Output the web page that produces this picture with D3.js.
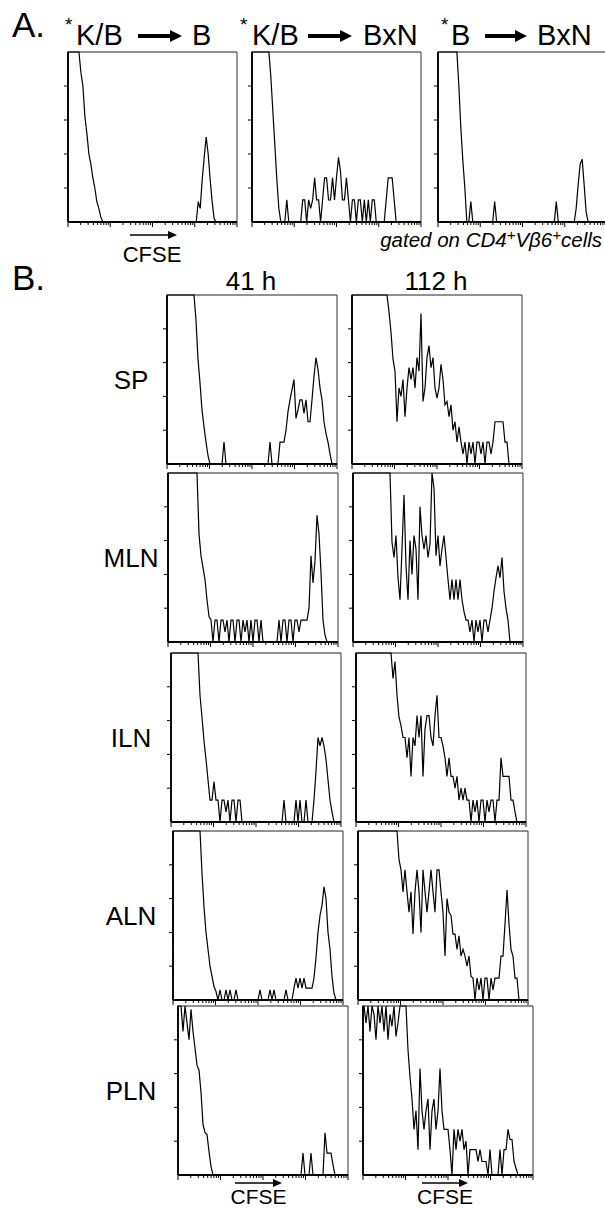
<!DOCTYPE html>
<html>
<head>
<meta charset="utf-8">
<script src="https://cdn.jsdelivr.net/npm/d3@7"></script>
<style>
  body { margin: 0; background: #fff; }
  svg { display: block; }
  text { font-family: "Liberation Sans", Arial, Helvetica, sans-serif; fill: #000; }
</style>
</head>
<body>
<svg width="605" height="1209"></svg>
<script>
// CFSE histograms, 85 channels each, value = % of plot height (>100 runs off the top)

// A. transfers, gated on CD4+ Vb6+ cells
const kbToB = [
  120,120,120,120,120,120,88,80,62,52,
  40,34,26,20,12,8,3,0,0,0,
  0,0,0,0,0,0,0,0,0,0,
  0,0,0,0,0,0,0,0,0,0,
  0,0,0,0,0,0,0,0,0,0,
  0,0,0,0,0,0,0,0,0,0,
  0,0,0,0,0,12,8,25,38,50,
  40,25,12,2,0,0,0,0,0,0,
  0,0,0,0,0];
const kbToBxN = [
  120,120,120,120,120,120,120,120,120,85,
  65,45,25,8,0,0,0,13,0,0,
  0,0,0,0,0,13,13,0,13,8,
  13,26,13,13,0,13,26,26,13,13,
  26,13,26,38,30,13,13,26,13,0,
  13,13,0,13,13,0,13,0,13,0,
  13,13,0,0,0,0,0,13,26,26,
  26,13,0,0,0,0,0,0,0,0,
  0,0,0,0,0];
const bToBxN = [
  120,120,120,120,120,120,120,120,120,120,
  80,55,36,20,0,0,12,0,0,0,
  0,0,0,0,0,0,0,0,12,0,
  0,0,0,0,0,0,0,0,0,0,
  0,0,0,0,0,0,0,0,0,0,
  0,0,0,0,0,0,0,0,0,12,
  0,0,0,0,0,0,0,0,0,8,
  22,34,37,22,6,0,0,0,0,0,
  0,0,0,0,0];

// B. lymphoid organs at 41 h and 112 h
const sp41 = [
  120,120,120,120,120,120,120,120,120,120,
  120,120,120,120,85,62,48,32,22,13,
  5,0,0,0,0,0,0,0,13,0,
  0,0,0,0,0,0,0,0,0,0,
  0,0,0,0,0,0,0,0,0,0,
  0,13,0,0,0,0,13,13,13,20,
  31,38,44,50,27,32,38,38,30,38,
  25,25,38,52,63,56,45,38,25,18,
  13,6,0,0,0];
const sp112 = [
  120,120,120,120,120,120,120,120,120,120,
  120,120,120,120,120,120,120,120,90,78,
  62,55,25,45,40,50,28,45,57,50,
  57,45,63,55,89,37,45,63,70,57,
  63,45,39,45,59,50,35,37,28,35,
  20,25,13,22,13,6,13,0,13,6,
  13,0,13,13,6,13,0,13,13,6,
  13,25,25,25,25,25,13,13,0,0,
  0,0,0,0,0];
const mln41 = [
  120,120,120,120,120,120,120,120,120,120,
  120,120,120,120,120,64,51,44,37,25,
  15,13,0,13,13,0,13,13,6,13,
  0,13,13,0,13,13,0,13,6,13,
  0,13,0,13,13,0,13,0,0,0,
  0,0,0,0,0,13,0,13,13,0,
  13,13,0,13,13,6,13,13,13,13,
  20,51,35,48,75,64,41,13,4,0,
  0,0,0,0,0];
const mln112 = [
  120,120,120,120,120,120,120,120,120,120,
  120,120,120,120,120,120,120,120,120,59,
  50,63,38,25,55,87,45,25,60,40,
  63,55,25,80,63,55,63,50,58,100,
  91,51,63,45,55,63,50,37,25,37,
  25,37,25,37,25,18,13,13,6,13,
  0,13,6,13,0,13,13,6,13,20,
  30,38,45,38,50,30,20,13,0,0,
  0,0,0,0,0];
const iln41 = [
  120,120,120,120,120,120,120,120,120,120,
  120,120,120,120,75,62,48,37,25,13,
  13,24,13,13,0,13,13,6,13,0,
  13,13,0,13,13,0,0,0,0,0,
  0,0,0,0,0,0,0,0,0,0,
  0,0,0,0,0,0,13,0,0,0,
  0,0,13,0,13,0,0,13,0,0,
  0,13,30,50,45,50,45,37,25,13,
  6,0,0,0,0];
const iln112 = [
  120,120,120,120,120,120,120,120,120,120,
  120,120,120,120,120,120,120,100,85,95,
  75,62,57,50,50,38,50,27,50,45,
  63,50,63,27,55,63,63,50,45,63,
  75,50,50,45,38,27,38,27,27,20,
  27,13,20,13,20,13,13,0,13,6,
  13,0,13,13,0,13,6,13,13,0,
  13,13,38,27,27,27,27,13,13,6,
  0,0,0,0,0];
const aln41 = [
  120,120,120,120,120,120,120,120,120,120,
  120,120,120,120,75,55,40,30,20,14,
  8,5,0,6,0,0,6,0,6,0,
  0,6,0,0,0,0,0,0,0,0,
  0,0,0,6,0,0,0,0,6,0,
  6,0,0,0,0,0,6,0,0,0,
  7,13,7,13,7,13,7,7,7,7,
  13,25,40,50,56,67,60,40,30,14,
  4,0,0,0,0];
const aln112 = [
  120,120,120,120,120,120,120,120,120,120,
  120,120,120,120,120,120,120,120,120,120,
  83,77,64,77,64,52,64,39,64,77,
  64,40,77,64,52,64,77,64,52,77,
  77,64,52,26,60,52,50,39,39,30,
  38,26,30,26,20,26,14,13,0,13,
  6,13,0,13,13,0,13,6,13,13,
  13,26,26,45,65,45,30,26,13,13,
  0,0,0,0,0];
const pln41 = [
  120,120,85,100,90,80,98,85,75,65,
  62,49,30,25,24,14,5,0,0,0,
  0,0,0,0,0,0,0,0,0,0,
  0,0,0,0,0,0,0,0,0,0,
  0,0,0,0,0,0,0,0,0,0,
  0,0,0,0,0,0,0,0,0,0,
  0,0,13,0,0,0,13,0,0,0,
  0,0,0,25,13,13,13,6,0,0,
  0,0,0,0,0];
const pln112 = [
  120,90,120,85,100,95,80,100,90,100,
  85,100,80,95,88,100,82,90,100,100,
  100,100,74,58,45,27,38,15,63,38,
  27,38,45,15,38,45,27,38,63,38,
  27,27,27,15,0,27,15,27,20,27,
  15,20,0,15,15,15,15,8,15,8,
  8,8,0,15,0,0,0,0,15,0,
  15,15,27,21,21,8,4,0,0,0,
  0,0,0,0,0];

const panelATitles = [['K/B', 'B'], ['K/B', 'BxN'], ['B', 'BxN']];
const panelAData = [kbToB, kbToBxN, bToBxN];
const organs = ['SP', 'MLN', 'ILN', 'ALN', 'PLN'];
const hours = ['41 h', '112 h'];
const panelBData = [[sp41, sp112], [mln41, mln112], [iln41, iln112], [aln41, aln112], [pln41, pln112]];
const decades = [1, 10, 100, 1000, 10000];

(function (d3) {
  'use strict';

  const svg = d3.select('svg');

  // one histogram box
  const histPlot = (selection, props) => {
    const { counts, width, height } = props;

    const xScale = d3.scaleLinear().domain([0, counts.length]).range([0, width]);
    const yScale = d3.scaleLinear().domain([0, 100]).range([height, 0]);
    const logScale = d3.scaleLog().domain(d3.extent(decades)).range([0, width]);

    // log minor ticks under the x axis
    const ticks = [];
    decades.slice(0, -1).forEach(dec => d3.range(1, 10).forEach(k => ticks.push(dec * k)));
    ticks.push(decades[decades.length - 1]);
    selection.selectAll('.xtick').data(ticks)
      .enter().append('line')
        .attr('class', 'xtick')
        .attr('x1', d => logScale(d)).attr('x2', d => logScale(d))
        .attr('y1', height)
        .attr('y2', d => decades.includes(d) ? height + 5 : height + 3)
        .attr('stroke', '#000').attr('stroke-width', 1);

    selection.selectAll('.ytick').data(yScale.ticks(4).filter(t => t > 0 && t < 100))
      .enter().append('line')
        .attr('class', 'ytick')
        .attr('x1', -4).attr('x2', 0)
        .attr('y1', d => yScale(d)).attr('y2', d => yScale(d))
        .attr('stroke', '#000').attr('stroke-width', 1);

    // frame: heavy left/bottom, light top/right
    selection.append('line').attr('x1', 0).attr('x2', width).attr('y1', 0).attr('y2', 0)
      .attr('stroke', '#222').attr('stroke-width', 1);
    selection.append('line').attr('x1', width).attr('x2', width).attr('y1', 0).attr('y2', height)
      .attr('stroke', '#333').attr('stroke-width', 1);
    selection.append('line').attr('x1', 0).attr('x2', 0).attr('y1', 0).attr('y2', height)
      .attr('stroke', '#000').attr('stroke-width', 1.8);
    selection.append('line').attr('x1', 0).attr('x2', width).attr('y1', height).attr('y2', height)
      .attr('stroke', '#000').attr('stroke-width', 1.8);

    // channel centres joined by straight segments, like the cytometer plot
    const pts = [[0, 0], [0, counts[0]]]
      .concat(counts.map((v, i) => [i + 0.5, v]))
      .concat([[counts.length, counts[counts.length - 1]]]);
    const line = d3.line()
      .x(d => xScale(d[0]))
      .y(d => yScale(Math.min(d[1], 100)))
      .curve(d3.curveLinear);

    selection.append('path')
      .attr('d', line(pts))
      .attr('fill', 'none')
      .attr('stroke', '#000')
      .attr('stroke-width', 1.2)
      .attr('stroke-linejoin', 'miter');
  };

  const arrow = (selection, x1, x2, y, lw, headLen, headW) => {
    selection.append('line')
      .attr('x1', x1).attr('x2', x2 - headLen + 1).attr('y1', y).attr('y2', y)
      .attr('stroke', '#000').attr('stroke-width', lw);
    selection.append('path')
      .attr('d', `M${x2},${y}L${x2 - headLen},${y - headW}L${x2 - headLen},${y + headW}Z`)
      .attr('fill', '#000');
  };

  // ---------- panel A ----------
  const aLeft = [68, 252, 438];
  const aTop = 52;
  const boxW = 169, boxH = 170;

  svg.append('text').attr('x', 12).attr('y', 37)
    .style('font-size', '35px').text('A.');

  const titleSpots = [
    { star: 65, from: 76, a1: 138, a2: 182, to: 192 },
    { star: 240, from: 252, a1: 308, a2: 352, to: 363 },
    { star: 441, from: 451, a1: 485, a2: 527, to: 537 }
  ];

  panelAData.forEach((counts, i) => {
    const t = titleSpots[i];
    svg.append('text').attr('x', t.star).attr('y', 31).style('font-size', '19px').text('*');
    svg.append('text').attr('x', t.from).attr('y', 45).style('font-size', '29px').text(panelATitles[i][0]);
    arrow(svg, t.a1, t.a2, 36, 4, 12, 6);
    svg.append('text').attr('x', t.to).attr('y', 45).style('font-size', '29px').text(panelATitles[i][1]);

    svg.append('g')
      .attr('transform', `translate(${aLeft[i]},${aTop})`)
      .call(histPlot, { counts, width: boxW, height: boxH });
  });

  arrow(svg, 130, 177, 235, 1.6, 9, 4);
  svg.append('text').attr('x', 152).attr('y', 262).attr('text-anchor', 'middle')
    .style('font-size', '22px').text('CFSE');

  const gated = svg.append('text').attr('x', 602).attr('y', 247).attr('text-anchor', 'end')
    .style('font-size', '20.5px').style('font-style', 'italic');
  gated.append('tspan').text('gated on CD4');
  gated.append('tspan').attr('dy', -7).style('font-size', '15px').text('+');
  gated.append('tspan').attr('dy', 7).text('V\u03b26');
  gated.append('tspan').attr('dy', -7).style('font-size', '15px').text('+');
  gated.append('tspan').attr('dy', 7).text('cells');

  // ---------- panel B ----------
  svg.append('text').attr('x', 12).attr('y', 290)
    .style('font-size', '35px').text('B.');

  const bTop = [295, 473, 653, 831, 1006];
  const bLeft = [167, 168, 171, 173, 178];
  const colGap = 185;
  const bW = 170, bH = 169;

  hours.forEach((h, j) => {
    svg.append('text')
      .attr('x', bLeft[0] + j * colGap + bW / 2 - 1).attr('y', 290)
      .attr('text-anchor', 'middle').style('font-size', '26px').text(h);
  });

  panelBData.forEach((pair, r) => {
    svg.append('text')
      .attr('x', 131).attr('y', bTop[r] + bH / 2 + 9)
      .attr('text-anchor', 'middle').style('font-size', '26px').text(organs[r]);
    pair.forEach((counts, j) => {
      svg.append('g')
        .attr('transform', `translate(${bLeft[r] + j * colGap},${bTop[r]})`)
        .call(histPlot, { counts, width: bW, height: bH });
    });
  });

  [[235, 282], [422, 468]].forEach(([x1, x2]) => {
    arrow(svg, x1, x2, 1183, 1.6, 9, 4);
    svg.append('text').attr('x', (x1 + x2) / 2).attr('y', 1204).attr('text-anchor', 'middle')
      .style('font-size', '21px').text('CFSE');
  });

}(d3));
</script>
</body>
</html>
